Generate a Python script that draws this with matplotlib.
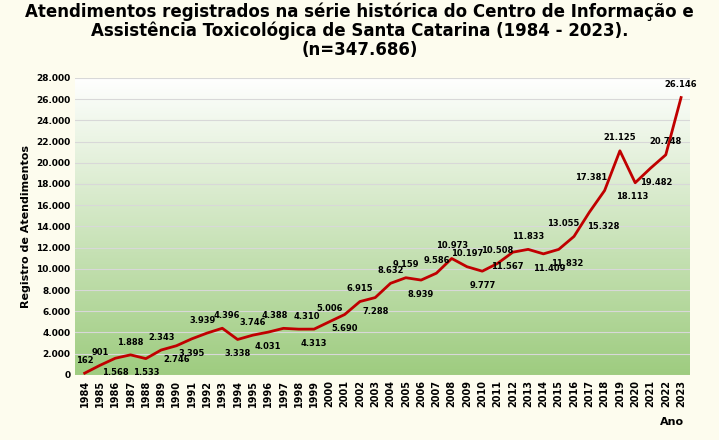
import matplotlib
matplotlib.use("Agg")
import matplotlib.pyplot as plt
import numpy as np
from matplotlib.ticker import FuncFormatter, MultipleLocator

years = list(range(1984, 2024))
values = [162, 901, 1568, 1888, 1533, 2343, 2746, 3395, 3939, 4396, 3338, 3746, 4031, 4388,
          4310, 4313, 5006, 5690, 6915, 7288, 8632, 9159, 8939, 9586, 10973, 10197, 9777,
          10508, 11567, 11833, 11409, 11832, 13055, 15328, 17381, 21125, 18113, 19482, 20748, 26146]
label_above = [1,1,0,1,0,1,0,0,1,1,0,1,0,1,1,0,1,0,1,0,1,1,0,1,1,1,0,1,0,1,0,0,1,0,1,1,0,0,1,1]
label_dx = {13: -6, 14: 6, 28: -4, 30: 4, 32: -8, 31: 6, 33: 10, 34: -10, 36: -2, 37: 4, 8: -3, 9: 3}

def fmt(v):
    return f"{int(v):,}".replace(",", ".")

fig = plt.figure(figsize=(7.19, 4.40), dpi=100)
fig.patch.set_facecolor("#fdfcee")
ax = fig.add_axes([0.105, 0.148, 0.855, 0.675])
x = np.arange(len(years))
ax.set_xlim(-0.6, len(years) - 0.4)
ax.set_ylim(0, 28000)
g = np.linspace(1, 0, 256)[:, None, None]
top = np.array([1.0, 1.0, 1.0]); bot = np.array([0.62, 0.80, 0.50])
img = top * g + bot * (1 - g)
ax.imshow(img, extent=[-0.6, len(years) - 0.4, 0, 28000], aspect="auto", zorder=0, origin="upper")
ax.yaxis.set_major_locator(MultipleLocator(2000))
ax.yaxis.set_major_formatter(FuncFormatter(lambda v, p: fmt(v)))
ax.grid(axis="y", color="#d8d8d8", lw=0.8, zorder=1)
ax.plot(x, values, color="#c00000", lw=2, zorder=3)
for i, (xi, v, a) in enumerate(zip(x, values, label_above)):
    ax.annotate(fmt(v), (xi, v), xytext=(label_dx.get(i, 0), 6 if a else -7), textcoords="offset points",
                ha="center", va="bottom" if a else "top", fontsize=6, fontweight="bold", zorder=4)
ax.set_xticks(x)
ax.set_xticklabels([str(y) for y in years], rotation=90, fontsize=7, fontweight="bold")
for l in ax.get_yticklabels():
    l.set_fontsize(6.5); l.set_fontweight("bold")
ax.tick_params(length=0)
for s in ax.spines.values():
    s.set_visible(False)
ax.set_ylabel("Registro de Atendimentos", fontsize=8, fontweight="bold")
fig.text(0.935, 0.035, "Ano", fontsize=8, fontweight="bold", ha="center")
fig.suptitle("Atendimentos registrados na série histórica do Centro de Informação e\n"
             "Assistência Toxicológica de Santa Catarina (1984 - 2023).\n(n=347.686)",
             fontsize=12, fontweight="bold", y=0.995, linespacing=1.05)
fig.savefig("out.png", dpi=100, facecolor=fig.get_facecolor())
